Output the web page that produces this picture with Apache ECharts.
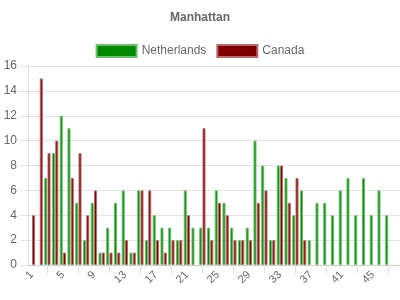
<!DOCTYPE html>
<html>
<head>
<meta charset="utf-8">
<script src="https://cdn.jsdelivr.net/npm/echarts@6/dist/echarts.min.js"></script>
<style>html,body{margin:0;padding:0;background:#fff;}#c{width:400px;height:300px;}</style>
</head>
<body>
<div id="c"></div>
<script>
var categories = ['1','2','3','4','5','6','7','8','9','10','11','12','13','14','15','16','17','18','19','20','21','22','23','24','25','26','27','28','29','30','31','32','33','34','35','36','37','38','39','40','41','42','43','44','45','46','47',''];
var netherlands = [null,null,7,9,12,11,5,2,5,1,3,5,6,1,6,2,4,3,3,2,6,3,3,3,6,5,3,2,3,10,8,2,8,7,4,6,2,5,5,4,6,7,4,7,4,6,4,null];
var canada = [4,15,9,10,1,7,9,4,6,1,1,1,2,1,6,6,2,1,2,2,4,null,11,2,5,4,2,2,2,5,6,2,8,5,7,2,null,null,null,null,null,null,null,null,null,null,null,null];
var yTicks = {min: 0, max: 16, step: 2};

var chart = echarts.init(document.getElementById('c'), null, {renderer: 'canvas'});
chart.setOption({
  animation: false,
  textStyle: {fontFamily: 'Liberation Sans, Arial, sans-serif'},
  title: {
    text: 'Manhattan', left: 'center', top: 7,
    textStyle: {fontSize: 12, fontWeight: 'bold', color: '#666', fontFamily: 'Liberation Sans, Arial, sans-serif'}
  },
  legend: {
    top: 39, left: 'center', itemWidth: 40, itemHeight: 12, itemGap: 10,
    icon: 'rect',
    textStyle: {fontSize: 12, color: '#666', fontFamily: 'Liberation Sans, Arial, sans-serif'},
    data: ['Netherlands', 'Canada']
  },
  grid: {left: 28, right: 0, top: 66, bottom: 35, containLabel: false},
  xAxis: {
    type: 'category', data: categories,
    axisLine: {lineStyle: {color: '#ccc'}},
    axisTick: {show: true, alignWithLabel: true, length: 8, lineStyle: {color: '#ddd'},
      interval: function (i) { return i % 4 === 2; }},
    axisLabel: {interval: function (i) { return i % 4 === 0; }, rotate: 45, color: '#666', fontSize: 11, margin: 8},
    splitLine: {show: false}
  },
  yAxis: {
    type: 'value', min: yTicks.min, max: yTicks.max, interval: yTicks.step,
    axisLine: {show: true, lineStyle: {color: '#ddd'}},
    axisTick: {show: true, length: 8, lineStyle: {color: '#e3e3e3'}},
    axisLabel: {color: '#666', fontSize: 12, margin: 11},
    splitLine: {lineStyle: {color: '#e3e3e3'}}
  },
  series: [
    {name: 'Netherlands', type: 'bar', data: netherlands, barWidth: 3, barGap: '10%',
      itemStyle: {color: '#008800', borderColor: '#6cbf6c', borderWidth: 1}},
    {name: 'Canada', type: 'bar', data: canada, barWidth: 3,
      itemStyle: {color: '#800000', borderColor: '#b86a6a', borderWidth: 1}}
  ]
});
</script>
</body>
</html>
